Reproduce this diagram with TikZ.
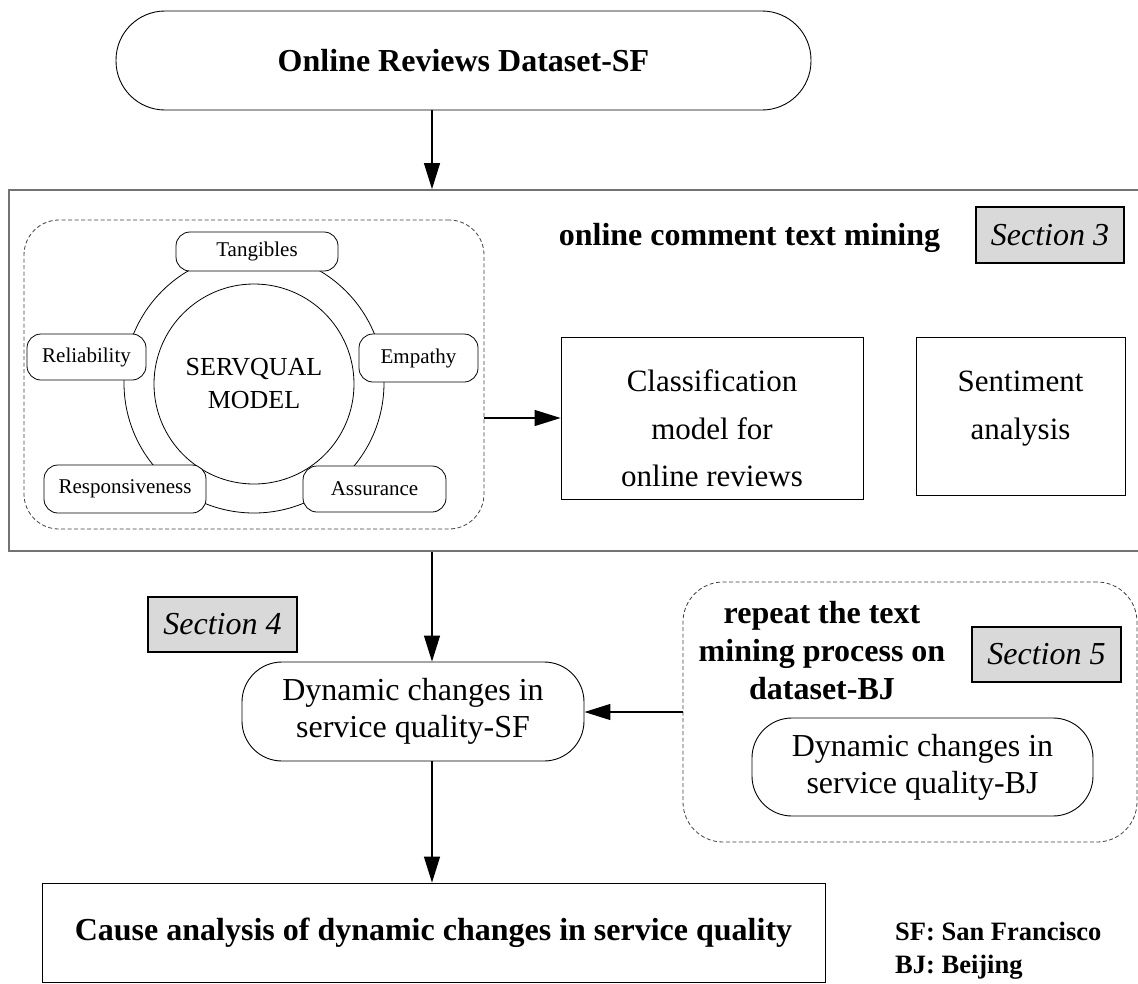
\documentclass[tikz,border=0pt]{standalone}
\usepackage{fontspec}
\setmainfont{Liberation Serif}
\usetikzlibrary{arrows.meta}
\tikzset{
  arr/.style={-{Triangle[length=26pt,width=16pt]}, line width=1.2pt},
  stadium/.style={draw, line width=0.9pt, rounded corners=49pt, inner sep=0pt, font=\fontsize{32}{37}\selectfont\bfseries},
  bigbox/.style={draw=black!55, line width=1.8pt, inner sep=0pt, minimum width=1141pt, minimum height=361pt},
  boldtxt/.style={inner sep=0pt, align=center, font=\fontsize{32}{38}\selectfont\bfseries},
  sectbox/.style={draw, line width=1.5pt, fill=black!15, inner sep=0pt, minimum width=149pt, minimum height=55pt, font=\fontsize{32}{37}\selectfont\itshape},
  dashbox/.style={draw=black!75, line width=0.8pt, dash pattern=on 4pt off 2.5pt, inner sep=0pt},
  ring/.style={draw, circle, line width=0.8pt, inner sep=0pt},
  dim/.style={draw, line width=0.8pt, fill=white, rounded corners=14pt, inner sep=0pt, font=\fontsize{21}{25}\selectfont},
  plainbox/.style={draw, line width=0.8pt, inner sep=0pt},
  txtbig/.style={inner sep=0pt, align=center, font=\fontsize{31}{47.5}\selectfont},
  roundbox/.style={draw, line width=0.9pt, rounded corners=40pt, inner sep=0pt, align=center, font=\fontsize{32}{37}\selectfont},
  legend/.style={inner sep=0pt, font=\fontsize{26.5}{33}\selectfont\bfseries}
}
\begin{document}
\begin{tikzpicture}[x=1pt,y=-1pt]
\useasboundingbox (0,0) rectangle (1138,983);
\coordinate (spine) at (432,0);

% top
\node[stadium, minimum width=695pt, minimum height=99pt] (top) at (463.5,60.5) {Online Reviews Dataset-SF};

% text mining block
\node[bigbox] (mining) at (579.5,370.5) {};
\node[boldtxt] (minetitle) at (749.5,237.5) {online comment text mining};
\node[sectbox, minimum width=148pt, minimum height=56pt] (sec3) at (1050,235) {Section 3};

\node[dashbox, minimum width=460pt, minimum height=309pt, rounded corners=35pt] (servq) at (254,374.5) {};
\node[ring, minimum size=260pt] (outer) at (254,383) {};
\node[ring, minimum size=200pt, align=center, font=\fontsize{26}{33}\selectfont] (core) at (254,384) {SERVQUAL\\MODEL};
\node[dim, minimum width=162pt, minimum height=39pt] (tang) at (257,251.5) {Tangibles};
\node[dim, minimum width=119pt, minimum height=46pt] (rel) at (86.5,357) {Reliability};
\node[dim, minimum width=119pt, minimum height=48pt] (emp) at (418.5,358) {Empathy};
\node[dim, minimum width=162pt, minimum height=48pt] (resp) at (125,489) {Responsiveness};
\node[dim, minimum width=143pt, minimum height=46pt] (ass) at (374.5,489) {Assurance};

\node[plainbox, minimum width=302pt, minimum height=162pt] (class) at (712,418) {};
\node[txtbig] (classtxt) at (712,428.5) {Classification\\model for\\online reviews};
\node[plainbox, minimum width=209pt, minimum height=158pt] (senti) at (1020.5,416) {};
\node[txtbig] (sentitxt) at (1020.5,408.5) {Sentiment\\analysis};
\draw[arr] (class.west -| servq.east) -- (class.west);

% lower part
\node[sectbox] (sec4) at (222.5,624.5) {Section 4};
\node[roundbox, minimum width=342pt, minimum height=99pt] (sf) at (413,711.5) {Dynamic changes in\\service quality-SF};
\node[dashbox, minimum width=454pt, minimum height=260pt, rounded corners=40pt] (bjarea) at (910,712) {};
\node[boldtxt] (repeat) at (822,651) {repeat the text\\mining process on\\dataset-BJ};
\node[sectbox] (sec5) at (1046.5,654.5) {Section 5};
\node[roundbox, minimum width=341pt, minimum height=98pt] (bj) at (922.5,767) {Dynamic changes in\\service quality-BJ};
\draw[arr] (bjarea.west) -- (bjarea.west -| sf.east);

\node[plainbox, minimum width=783pt, minimum height=99pt, font=\fontsize{32}{37}\selectfont\bfseries] (cause) at (433.5,932.5) {Cause analysis of dynamic changes in service quality};
\node[legend, anchor=base west] (lgsf) at (895,940) {SF: San Francisco};
\node[legend, anchor=base west] (lgbj) at (895,973) {BJ: Beijing};

% main flow
\draw[arr] (top.south -| spine) -- (mining.north -| spine);
\draw[arr] (mining.south -| spine) -- (sf.north -| spine);
\draw[arr] (sf.south -| spine) -- (cause.north -| spine);
\end{tikzpicture}
\end{document}
